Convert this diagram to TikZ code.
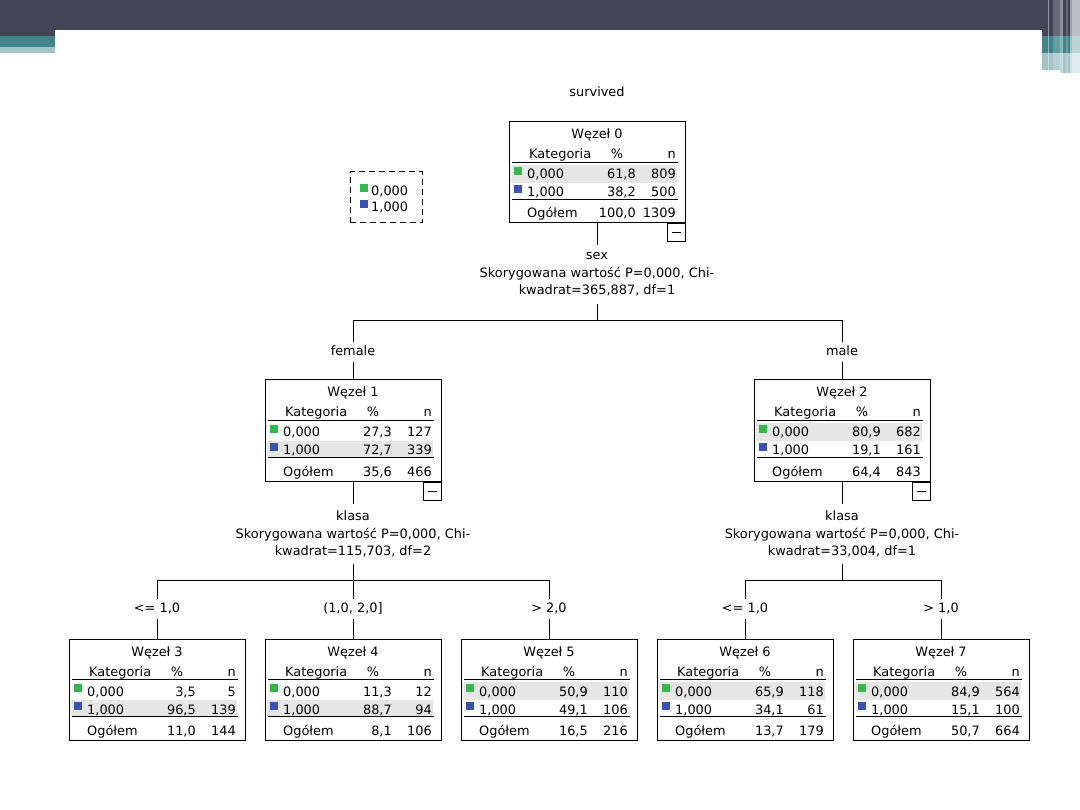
\documentclass[tikz,border=0pt]{standalone}
\usepackage{fontspec}
\setmainfont{DejaVu Sans}
\usepackage{xcolor}
\usepackage{tikz}
\usetikzlibrary{positioning}

\definecolor{topbar}{RGB}{66,68,86}
\definecolor{teal1}{RGB}{66,132,137}
\definecolor{teal2}{RGB}{163,196,199}
\definecolor{cat0}{RGB}{53,184,74}
\definecolor{cat1}{RGB}{59,82,180}
\definecolor{rowgray}{RGB}{230,230,230}

% one tree box: number, top left corner, shaded row, then % and n of 0, 1 and total
\newcommand{\wezel}[9]{%
  \begin{scope}[shift={(#2)}]
    \ifnum#3=0 \fill[rowgray] (2,43) rectangle (168,61);
    \else \fill[rowgray] (2,61) rectangle (168,77); \fi
    \node[wbox] (w#1) at (88,50.5) {};
    \node[cell, anchor=base] (w#1-t) at (88,17) {Węzeł #1};
    \node[cell, anchor=base west] (w#1-k) at (20,37) {Kategoria};
    \node[cell, anchor=base] (w#1-p) at (108,37) {\%};
    \node[cell, anchor=base east] (w#1-n) at (167,37) {n};
    \draw (3,40.5) -- (169,40.5);
    \fill[cat0] (5,45) rectangle (13,53);
    \node[cell, anchor=base west] (w#1-a) at (18,57) {0,000};
    \node[cell, anchor=base east] (w#1-ap) at (127,57) {#4};
    \node[cell, anchor=base east] (w#1-an) at (167,57) {#5};
    \fill[cat1] (5,63) rectangle (13,71);
    \node[cell, anchor=base west] (w#1-b) at (18,75) {1,000};
    \node[cell, anchor=base east] (w#1-bp) at (127,75) {#6};
    \node[cell, anchor=base east] (w#1-bn) at (167,75) {#7};
    \draw[line width=1.8pt] (3,77.5) -- (169,77.5);
    \node[cell, anchor=base west] (w#1-o) at (18,96) {Ogółem};
    \node[cell, anchor=base east] (w#1-op) at (127,96) {#8};
    \node[cell, anchor=base east] (w#1-on) at (167,96) {#9};
  \end{scope}}

\begin{document}
\begin{tikzpicture}[x=1pt, y=-1pt, font=\fontsize{12.9}{17.5}\selectfont,
  wbox/.style={draw, line width=1pt, minimum width=176pt, minimum height=101pt, inner sep=0pt},
  cell/.style={inner sep=0pt},
  minusbox/.style={draw, line width=1pt, fill=white, minimum size=18pt, inner sep=0pt},
  split/.style={align=center, inner xsep=2pt, inner ysep=7pt},
  lbl/.style={inner sep=4pt, text height=9pt, text depth=2pt},
  link/.style={line width=1pt}]
\useasboundingbox (0,0) rectangle (1080,810);
\fill[white] (0,0) rectangle (1080,810);

% slide frame
\fill[topbar] (0,0) rectangle (1042,30);
\fill[topbar] (0,0) rectangle (55,36);
\fill[topbar] (1042,0) rectangle (1080,36);
\fill[teal1] (0,36) rectangle (55,47);
\fill[teal2] (0,47) rectangle (55,53);
\fill[teal1] (1042,36) rectangle (1080,53);
\fill[teal2] (1042,53) rectangle (1080,70);
\fill[teal2] (1060,70) rectangle (1080,73);
\fill[white, opacity=.45] (1048,0) rectangle (1049,70);
\fill[white, opacity=.2] (1053,0) rectangle (1060,73);
\fill[white, opacity=.4] (1060,0) rectangle (1063,73);
\fill[white, opacity=.2] (1066,0) rectangle (1068,73);
\fill[white, opacity=.5] (1070,0) rectangle (1072,73);
\fill[white, opacity=.65] (1072,0) rectangle (1080,73);

\node[cell, anchor=base] (target) at (597,97) {survived};

% legend
\node[draw, line width=1pt, dash pattern=on 6pt off 4pt, minimum width=72pt, minimum height=51pt] (legend) at (386,197.5) {};
\fill[cat0] (360,184) rectangle (368,192);
\node[cell, anchor=base west] (leg0) at (371,196) {0,000};
\fill[cat1] (360,200) rectangle (368,208);
\node[cell, anchor=base west] (leg1) at (371,212) {1,000};

% tree boxes
\wezel{0}{509,122}{0}{61,8}{809}{38,2}{500}{100,0}{1309}
\wezel{1}{265,380}{1}{27,3}{127}{72,7}{339}{35,6}{466}
\wezel{2}{754,380}{0}{80,9}{682}{19,1}{161}{64,4}{843}
\wezel{3}{69,639}{1}{3,5}{5}{96,5}{139}{11,0}{144}
\wezel{4}{265,639}{1}{11,3}{12}{88,7}{94}{8,1}{106}
\wezel{5}{461,639}{0}{50,9}{110}{49,1}{106}{16,5}{216}
\wezel{6}{657,639}{0}{65,9}{118}{34,1}{61}{13,7}{179}
\wezel{7}{853,639}{0}{84,9}{564}{15,1}{100}{50,7}{664}

\node[minusbox, anchor=north east] (m0) at (w0.south east) {\rule{9pt}{1pt}};
\node[minusbox, anchor=north east] (m1) at (w1.south east) {\rule{9pt}{1pt}};
\node[minusbox, anchor=north east] (m2) at (w2.south east) {\rule{9pt}{1pt}};

% splits
\node[split, below=22pt of w0] (s0) {sex\\Skorygowana wartość P=0,000, Chi-\\kwadrat=365,887, df=1};
\node[split, below=22pt of w1] (s1) {klasa\\Skorygowana wartość P=0,000, Chi-\\kwadrat=115,703, df=2};
\node[split, below=22pt of w2] (s2) {klasa\\Skorygowana wartość P=0,000, Chi-\\kwadrat=33,004, df=1};

\coordinate (b0) at (597,321);
\coordinate (b1) at (353,580);
\coordinate (b2) at (842,580);

\node[lbl] (lfemale) at (353,352) {female};
\node[lbl] (lmale) at (842,352) {male};
\node[lbl] (l3) at (157,609) {<= 1,0};
\node[lbl] (l4) at (353,609) {(1,0, 2,0]};
\node[lbl] (l5) at (549,609) {> 2,0};
\node[lbl] (l6) at (745,609) {<= 1,0};
\node[lbl] (l7) at (941,609) {> 1,0};

\draw[link] (w0) -- (s0);
\draw[link] (s0) -- (b0) -| (lfemale);
\draw[link] (b0) -| (lmale);
\draw[link] (lfemale) -- (w1);
\draw[link] (lmale) -- (w2);

\draw[link] (w1) -- (s1);
\draw[link] (s1) -- (b1) -| (l3);
\draw[link] (b1) -| (l5);
\draw[link] (b1) -- (l4);
\draw[link] (l3) -- (w3);
\draw[link] (l4) -- (w4);
\draw[link] (l5) -- (w5);

\draw[link] (w2) -- (s2);
\draw[link] (s2) -- (b2) -| (l6);
\draw[link] (b2) -| (l7);
\draw[link] (l6) -- (w6);
\draw[link] (l7) -- (w7);
\end{tikzpicture}
\end{document}
